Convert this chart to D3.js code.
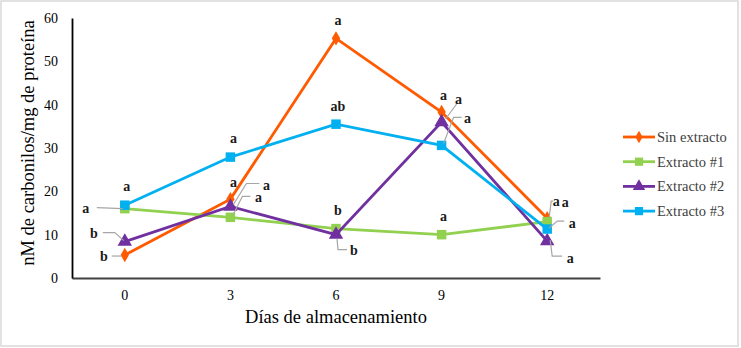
<!DOCTYPE html>
<html>
<head>
<meta charset="utf-8">
<script src="https://cdn.jsdelivr.net/npm/d3@7"></script>
<style>
    body { margin: 0; background: #fff; }
    svg { display: block; }
    svg text { font-family: "Liberation Serif", "Times New Roman", serif; }
</style>
</head>
<body>
<svg id="chart"></svg>
<script>
const width = 741, height = 348
const margin = { top: 18, bottom: 70, left: 72, right: 141 }

// data
const days = ["0", "3", "6", "9", "12"]
const yTicks = [0, 10, 20, 30, 40, 50, 60]
const seriesNames = ["Sin extracto", "Extracto #1", "Extracto #2", "Extracto #3"]
const sinExtracto = [5.3, 18.2, 55.3, 38.3, 13.8]
const extracto1 = [16.0, 14.0, 11.4, 10.0, 13.0]
const extracto2 = [8.4, 16.5, 10.0, 36.0, 8.5]
const extracto3 = [16.8, 27.9, 35.5, 30.6, 11.3]
// significance letters, one row per series, one column per day
const letters = [
    ["b", "a", "a", "a", "a"],
    ["a", "a", "b", "a", "a"],
    ["b", "a", "b", "a", "a"],
    ["a", "a", "ab", "a", "a"],
]

// label placement (pixel offsets from the point), and leader lines
const labelLayout = [
    [
        {dx: -21, dy: 1, lead: [[-13, 1], [-3, 1]]},
        {dx: 3, dy: -17},
        {dx: 2, dy: -18},
        {dx: 2, dy: -17},
        {dx: 9, dy: -17, lead: [[6, -17], [4, -17], [2, -1]]},
    ],
    [
        {dx: -39, dy: 0, lead: [[-28, -1], [-2, 0]]},
        {dx: 28, dy: -20, lead: [[20, -21], [12, -21], [3, -3]]},
        {dx: 2, dy: -18},
        {dx: 2, dy: -18},
        {dx: 18, dy: -19},
    ],
    [
        {dx: -31, dy: -8, lead: [[-22, -9], [-10, -9], [-1, -1]]},
        {dx: 36, dy: -21, lead: [[29, -23], [16, -23], [3, -2]]},
        {dx: 18, dy: 16, lead: [[1, 4], [2, 15], [11, 15]]},
        {dx: 17, dy: -23, lead: [[15, -18], [4, -3]]},
        {dx: 23, dy: 17, lead: [[3, -1], [5, 15], [15, 15]]},
    ],
    [
        {dx: 2, dy: -19},
        {dx: 3, dy: -19},
        {dx: 2, dy: -18},
        {dx: 26, dy: -27, lead: [[20, -28], [12, -28], [2, -2]]},
        {dx: 25, dy: -6, lead: [[17, -8], [10, -8], [2, -1]]},
    ],
]

const colors = ["#ff5a00", "#92d050", "#7030a0", "#00b0f0"]
const symbols = [d3.symbolDiamond, d3.symbolSquare, d3.symbolTriangle, d3.symbolSquare]
const symbolSizes = [60, 90, 90, 90]
const allValues = [sinExtracto, extracto1, extracto2, extracto3]

const series = seriesNames.map((name, i) => ({
    name,
    color: colors[i],
    symbol: symbols[i],
    size: symbolSizes[i],
    points: days.map((day, j) => ({day, value: allValues[i][j], letter: letters[i][j], layout: labelLayout[i][j]})),
}))

const svg = d3.select("svg#chart")
    .attr("viewBox", [0, 0, width, height])
    .attr("width", width)
    .attr("height", height)

// frame
svg.append("rect")
    .attr("x", 1).attr("y", 1)
    .attr("width", width - 4).attr("height", height - 3)
    .attr("fill", "#fff")
    .attr("stroke", "#d9d9d9")
    .attr("stroke-width", 1.5)

const xScale = d3.scaleBand()
    .domain(days)
    .range([margin.left, width - margin.right])

const yScale = d3.scaleLinear()
    .domain([0, 60])
    .range([height - margin.bottom, margin.top])

const px = d => xScale(d.day) + xScale.bandwidth() / 2
const py = d => yScale(d.value)

// X axis
svg.append("g").classed("x-axis", true)
    .attr("transform", `translate(0, ${height - margin.bottom})`)
    .call(d3.axisBottom(xScale).tickSize(0).tickPadding(12))
    .call(g => g.attr("font-family", null))
    .call(g => g.select(".domain").attr("stroke", "#404040").attr("stroke-width", 2))
    .call(g => g.selectAll("text").attr("font-size", 14).attr("fill", "#000"))

// Y axis
svg.append("g").classed("y-axis", true)
    .attr("transform", `translate(${margin.left}, 0)`)
    .call(d3.axisLeft(yScale).tickValues(yTicks).tickSize(0).tickPadding(14))
    .call(g => g.attr("font-family", null))
    .call(g => g.select(".domain").attr("stroke", "#000").attr("stroke-width", 1.8))
    .call(g => g.selectAll("text").attr("font-size", 14).attr("fill", "#000"))

// axis titles
svg.append("text")
    .attr("x", (margin.left + width - margin.right) / 2)
    .attr("y", 323)
    .attr("text-anchor", "middle")
    .attr("font-size", 18.5)
    .text("Días de almacenamiento")

svg.append("text")
    .attr("transform", `translate(34, ${(margin.top + height - margin.bottom) / 2 - 5}) rotate(-90)`)
    .attr("text-anchor", "middle")
    .attr("font-size", 18.5)
    .text("nM de carbonilos/mg de proteína")

// lines + markers
const line = d3.line().x(px).y(py)

const seriesG = svg.append("g").classed("series", true)
    .selectAll("g")
    .data(series)
    .enter()
    .append("g")

seriesG.append("path")
    .attr("d", d => line(d.points))
    .attr("fill", "none")
    .attr("stroke", d => d.color)
    .attr("stroke-width", 2.8)

seriesG.selectAll("path.marker")
    .data(d => d.points.map(p => ({...p, s: d})))
    .enter()
    .append("path")
    .classed("marker", true)
    .attr("transform", d => `translate(${px(d)}, ${py(d)})`)
    .attr("d", d => d3.symbol(d.s.symbol, d.s.size)())
    .attr("fill", d => d.s.color)

// significance labels
const labels = series.flatMap(s => s.points)
const labelG = svg.append("g").classed("labels", true)

labelG.selectAll("path")
    .data(labels.filter(d => d.layout.lead))
    .enter()
    .append("path")
    .attr("d", d => d3.line()(d.layout.lead.map(([dx, dy]) => [px(d) + dx, py(d) + dy])))
    .attr("fill", "none")
    .attr("stroke", "#a6a6a6")
    .attr("stroke-width", 1.2)

labelG.selectAll("text")
    .data(labels)
    .enter()
    .append("text")
    .attr("x", d => px(d) + d.layout.dx)
    .attr("y", d => py(d) + d.layout.dy)
    .attr("text-anchor", "middle")
    .attr("dominant-baseline", "central")
    .attr("font-size", 14)
    .attr("font-weight", "bold")
    .attr("fill", "#1a1a1a")
    .text(d => d.letter)

// legend
const legend = svg.append("g").classed("legend", true)
    .attr("transform", "translate(623, 137)")
    .selectAll("g")
    .data(series)
    .enter()
    .append("g")
    .attr("transform", (d, i) => `translate(0, ${i * 24.7})`)

legend.append("line")
    .attr("x1", 0).attr("x2", 32)
    .attr("stroke", d => d.color)
    .attr("stroke-width", 2.8)

legend.append("path")
    .attr("transform", "translate(16, 0)")
    .attr("d", d => d3.symbol(d.symbol, d.size * 0.75)())
    .attr("fill", d => d.color)

legend.append("text")
    .attr("x", 34)
    .attr("dominant-baseline", "central")
    .attr("font-size", 14.5)
    .attr("fill", "#404040")
    .text(d => d.name)
</script>
</body>
</html>
